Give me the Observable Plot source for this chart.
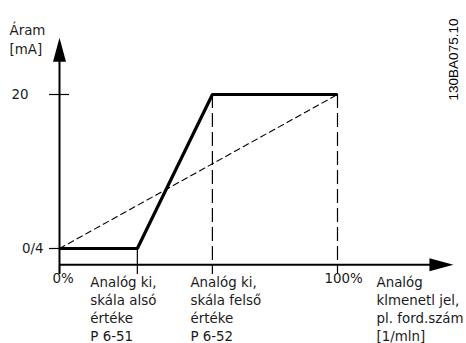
<!DOCTYPE html>
<html>
<head>
<meta charset="utf-8">
<script src="https://cdn.jsdelivr.net/npm/d3@7"></script>
<script src="https://cdn.jsdelivr.net/npm/@observablehq/plot@0.6"></script>
<style>
  html, body { margin: 0; padding: 0; background: #fff; }
  #chart { width: 466px; height: 343px; }
</style>
</head>
<body>
<div id="chart"></div>
<script>
// ---- data ----
const outputPct = [0, 28, 55, 100];         // analog output signal, % of range
const currentMA = [4, 4, 20, 20];           // output current, mA (0/4 .. 20)
const linearPct = [0, 100];                 // dashed proportional reference
const linearMA = [4, 20];
const yTickValues = [20, 4];
const yTickLabels = ["20", "0/4"];
const xLabelPct = [0, 28, 55, 100, 100];
const xLabelTexts = [
  "0%",
  "Analóg ki,\nskála alsó\nértéke\nP 6-51",
  "Analóg ki,\nskála felső\nértéke\nP 6-52",
  "100%",
  "Analóg\nklmenetl jel,\npl. ford.szám\n[1/mln]"
];
const yTitle = "Áram\n[mA]";
const drawingCode = "130BA075.10";

// ---- layout (schematic axis extents in data units) ----
const axisLevel = 2.3;     // where the horizontal axis sits
const tickBottom = 1.3;    // bottom of small ticks below the axis
const xAxisEnd = 141.7;    // tip of horizontal arrow
const yAxisTop = 25.9;     // tip of vertical arrow

const arrowSymbol = {
  draw(ctx) {
    ctx.moveTo(0, 0);
    ctx.lineTo(6.5, 24);
    ctx.lineTo(-6.5, 24);
    ctx.closePath();
  }
};

const curve = outputPct.map((x, i) => ({x, y: currentMA[i]}));
const linear = linearPct.map((x, i) => ({x, y: linearMA[i]}));
const yTicks = yTickValues.map((v, i) => ({v, label: yTickLabels[i]}));
const xLabels = xLabelPct.map((x, i) => ({x, label: xLabelTexts[i]}));

// fit font sizes so text widths match the reference drawing
const font = "DejaVu Sans";
const codeFont = "Liberation Sans";
function measure(str, family, size) {
  const c = document.createElement("canvas").getContext("2d");
  c.font = `${size}px "${family}"`;
  return c.measureText(str).width;
}
const clamp = (v, a, b) => Math.max(a, Math.min(b, v));
const fs = clamp(Math.min(
  13 * 70 / measure("Analóg ki,", font, 13),
  13 * 87 / measure("pl. ford.szám", font, 13)
), 12, 14.5);
const lh = 18 / fs;
const textColor = "#1a1a1a";

const plot = Plot.plot({
  width: 466,
  height: 343,
  margin: 0,
  x: {domain: [0, 100], range: [59, 337], axis: null},
  y: {domain: [4, 20], range: [248, 94], axis: null},
  style: {background: "#fff", fontFamily: font},
  marks: [
    // dashed vertical guides at the upper scale value and 100%
    Plot.ruleX([outputPct[2], outputPct[3]], {y1: currentMA[2], y2: axisLevel, stroke: "#000", strokeWidth: 1.2, strokeDasharray: "14,5"}),
    // small ticks below the horizontal axis
    Plot.ruleX([outputPct[0], outputPct[2], outputPct[3]], {y1: axisLevel, y2: tickBottom, stroke: "#000", strokeWidth: 1.2}),
    Plot.ruleX([outputPct[1]], {y1: currentMA[1], y2: tickBottom, stroke: "#000", strokeWidth: 1.2}),
    // y ticks
    Plot.ruleY([yTickValues[0]], {x1: -3.6, x2: 3.6, stroke: "#000", strokeWidth: 1.2}),
    Plot.ruleY([yTickValues[1]], {x1: -3.6, x2: 0, stroke: "#000", strokeWidth: 1.2}),
    // axes
    Plot.ruleX([0], {y1: tickBottom, y2: yAxisTop - 2, stroke: "#000", strokeWidth: 2}),
    Plot.ruleY([axisLevel], {x1: 0, x2: xAxisEnd - 3, stroke: "#000", strokeWidth: 2}),
    Plot.dot([{x: 0, y: yAxisTop}], {x: "x", y: "y", symbol: arrowSymbol, fill: "#000", stroke: "none"}),
    Plot.dot([{x: xAxisEnd, y: axisLevel}], {x: "x", y: "y", symbol: arrowSymbol, rotate: 90, fill: "#000", stroke: "none"}),
    // dashed proportional line
    Plot.line(linear, {x: "x", y: "y", stroke: "#000", strokeWidth: 1.1, strokeDasharray: "6,4"}),
    // actual characteristic
    Plot.line(curve, {x: "x", y: "y", stroke: "#000", strokeWidth: 3.2, strokeLinejoin: "miter", strokeLinecap: "butt"}),
    // y tick labels
    Plot.text([yTicks[0]], {x: 0, y: "v", text: "label", textAnchor: "end", dx: -31, fontSize: fs, fill: textColor, fontFamily: font}),
    Plot.text([yTicks[1]], {x: 0, y: "v", text: "label", textAnchor: "end", dx: -16, fontSize: fs, fill: textColor, fontFamily: font}),
    // y title
    Plot.text([yTitle], {frameAnchor: "top-left", text: d => d, textAnchor: "start", lineAnchor: "top", lineHeight: 19 / fs, dx: 9, dy: 21, fontSize: fs, fill: textColor, fontFamily: font}),
    // x labels
    Plot.text([xLabels[0]], {x: "x", y: axisLevel, text: "label", textAnchor: "start", lineAnchor: "top", dx: -7, dy: 9, fontSize: fs, fill: textColor, fontFamily: font}),
    Plot.text([xLabels[1]], {x: "x", y: axisLevel, text: "label", textAnchor: "start", lineAnchor: "top", lineHeight: lh, dx: -47, dy: 9, fontSize: fs, fill: textColor, fontFamily: font}),
    Plot.text([xLabels[2]], {x: "x", y: axisLevel, text: "label", textAnchor: "start", lineAnchor: "top", lineHeight: lh, dx: -22, dy: 9, fontSize: fs, fill: textColor, fontFamily: font}),
    Plot.text([xLabels[3]], {x: "x", y: axisLevel, text: "label", textAnchor: "start", lineAnchor: "top", dx: -13, dy: 9, fontSize: fs, fill: textColor, fontFamily: font}),
    Plot.text([xLabels[4]], {x: "x", y: axisLevel, text: "label", textAnchor: "start", lineAnchor: "top", lineHeight: lh, dx: 39, dy: 9, fontSize: fs, fill: textColor, fontFamily: font}),
    // drawing code
    Plot.text([drawingCode], {frameAnchor: "top-right", text: d => d, rotate: -90, textAnchor: "middle", lineAnchor: "middle", dx: -13, dy: 59, fontSize: 13.5, fill: "#000", fontFamily: codeFont})
  ]
});
// stretch the drawing code to its length in the reference
for (const t of plot.querySelectorAll("text")) {
  if (t.textContent === drawingCode) {
    t.setAttribute("textLength", 82);
    t.setAttribute("lengthAdjust", "spacingAndGlyphs");
  }
}
document.getElementById("chart").appendChild(plot);
</script>
</body>
</html>
